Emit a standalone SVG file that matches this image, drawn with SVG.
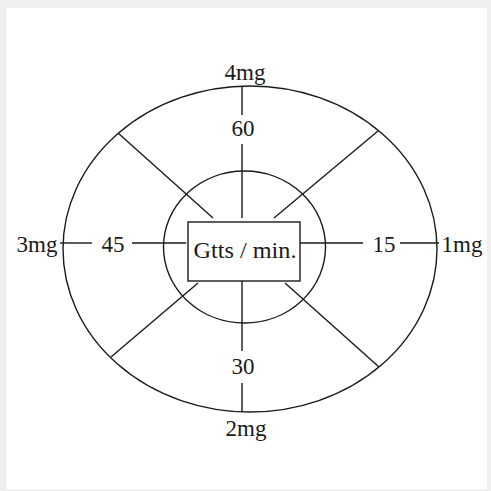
<svg xmlns="http://www.w3.org/2000/svg" width="491" height="491" viewBox="0 0 491 491">
<style>
.ln{stroke:#1a1a1a;stroke-width:1.4;fill:none}
.t{font-family:"Liberation Serif","DejaVu Serif",serif;font-size:23px;fill:#1a1a1a;text-anchor:middle}
</style>
<rect x="0" y="0" width="491" height="491" fill="#efefef"/>
<rect x="6" y="8" width="481" height="481" fill="#ffffff"/>
<g id="outer-ring"><ellipse class="ln" cx="250" cy="249" rx="187" ry="163"/></g>
<g id="inner-ring"><ellipse class="ln" cx="244.5" cy="247" rx="81" ry="76"/></g>
<g id="connectors">
<line class="ln" x1="242" y1="86" x2="242" y2="115"/>
<line class="ln" x1="242" y1="144" x2="242" y2="218"/>
<line class="ln" x1="242" y1="281" x2="242" y2="351"/>
<line class="ln" x1="242" y1="383" x2="242" y2="412"/>
<line class="ln" x1="60" y1="243" x2="92" y2="243"/>
<line class="ln" x1="132" y1="243" x2="186" y2="243"/>
<line class="ln" x1="300" y1="243" x2="363" y2="243"/>
<line class="ln" x1="400" y1="243" x2="439" y2="243"/>
<line class="ln" x1="118" y1="133" x2="213" y2="218"/>
<line class="ln" x1="378" y1="131" x2="274" y2="218"/>
<line class="ln" x1="198" y1="283" x2="111" y2="357"/>
<line class="ln" x1="285" y1="283" x2="379" y2="367"/>
</g>
<g id="center"><rect class="ln" x="188" y="222" width="112" height="59" fill="#fff"/><text class="t" x="245" y="258" style="font-size:24px" textLength="103" lengthAdjust="spacingAndGlyphs">Gtts / min.</text></g>
<g id="label-4mg"><text class="t" x="245" y="80">4mg</text></g>
<g id="label-60"><text class="t" x="243" y="136">60</text></g>
<g id="label-3mg"><text class="t" x="37" y="252">3mg</text></g>
<g id="label-45"><text class="t" x="113" y="252">45</text></g>
<g id="label-15"><text class="t" x="384" y="252">15</text></g>
<g id="label-1mg"><text class="t" x="462" y="252">1mg</text></g>
<g id="label-30"><text class="t" x="243" y="374">30</text></g>
<g id="label-2mg"><text class="t" x="246" y="436">2mg</text></g>
</svg>
